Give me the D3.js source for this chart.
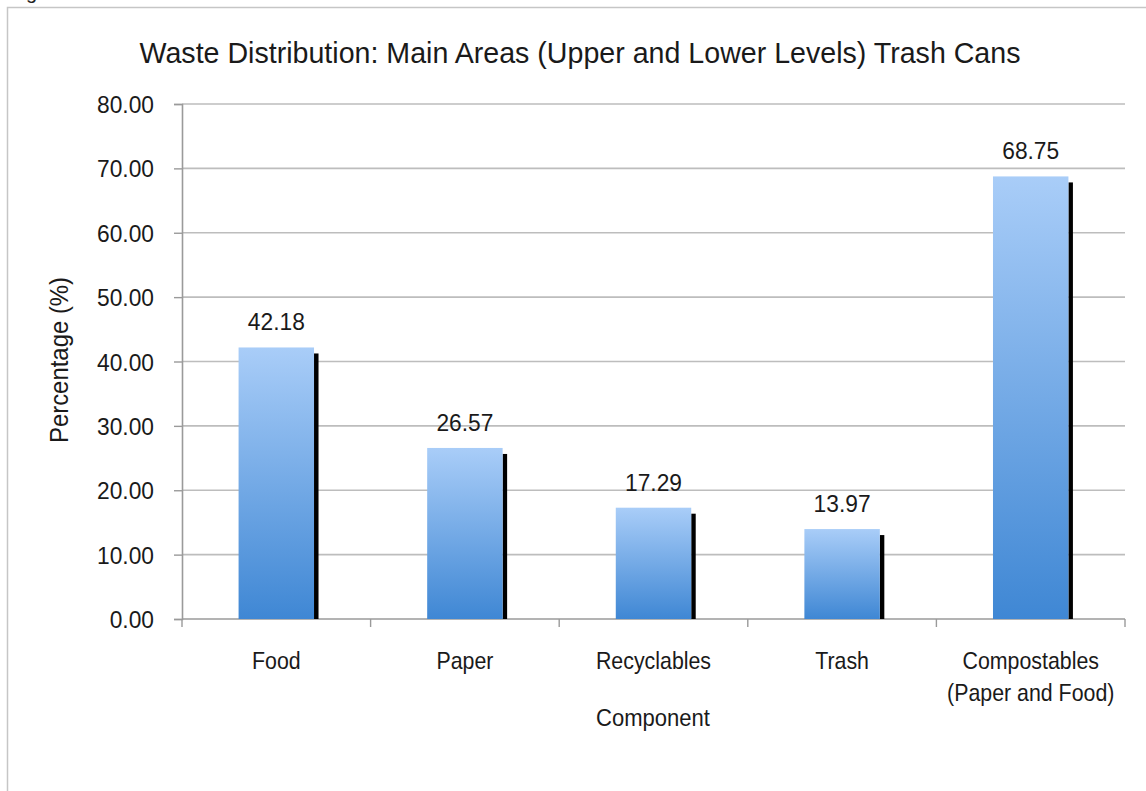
<!DOCTYPE html>
<html>
<head>
<meta charset="utf-8">
<script src="https://cdn.jsdelivr.net/npm/d3@7"></script>
<style>
  html, body { margin: 0; padding: 0; background: #fff; }
  svg { display: block; font-family: "Liberation Sans", Arial, Helvetica, sans-serif; }
</style>
</head>
<body>
<svg id="chart" width="1146" height="791"></svg>
<script>
// Waste composition of the main-area trash cans
const categories = ["Food", "Paper", "Recyclables", "Trash", "Compostables\n(Paper and Food)"];
const percentages = [42.18, 26.57, 17.29, 13.97, 68.75];
const yTicks = [0, 10, 20, 30, 40, 50, 60, 70, 80];

const titleText = "Waste Distribution: Main Areas (Upper and Lower Levels) Trash Cans";
const yTitle = "Percentage (%)";
const xTitle = "Component";

const svg = d3.select("#chart");
const W = 1146, H = 791;
const plot = { left: 182, right: 1125, top: 104, bottom: 619 };

const x = d3.scaleBand().domain(categories).range([plot.left, plot.right]).padding(0);
const y = d3.scaleLinear().domain([0, 80]).range([plot.bottom, plot.top]);
const barW = x.bandwidth() * 0.4;
const fmt = d3.format(".2f");

// frame of the surrounding figure
svg.append("path")
  .attr("d", `M7.5,${H} L7.5,7.5 L${W},7.5`)
  .attr("fill", "none").attr("stroke", "#c6c6c6").attr("stroke-width", 1.5);
svg.append("text").attr("x", 26).attr("y", -1)
  .attr("font-size", 20).attr("fill", "#222").text("g");

// gradient fill for the columns
const defs = svg.append("defs");
const grad = defs.append("linearGradient").attr("id", "barGrad")
  .attr("x1", 0).attr("y1", 0).attr("x2", 0).attr("y2", 1);
grad.append("stop").attr("offset", "0%").attr("stop-color", "#a9cdf8");
grad.append("stop").attr("offset", "100%").attr("stop-color", "#3f87d4");

// text helper with slight horizontal condensing
function label(g, px, py, str, size, anchor, sx = 0.92) {
  return g.append("text")
    .attr("transform", `translate(${px},${py}) scale(${sx},1)`)
    .attr("text-anchor", anchor)
    .attr("font-size", size)
    .attr("fill", "#1a1a1a")
    .text(str);
}

// horizontal gridlines
svg.append("g").selectAll("line").data(yTicks.filter(d => d > 0)).join("line")
  .attr("x1", plot.left).attr("x2", plot.right)
  .attr("y1", d => y(d)).attr("y2", d => y(d))
  .attr("stroke", "#bdbdbd").attr("stroke-width", 1.6);

// y axis
const yAxis = svg.append("g").attr("transform", `translate(${plot.left},0)`)
  .call(d3.axisLeft(y).tickValues(yTicks).tickSize(8).tickFormat(""));
yAxis.select(".domain").attr("stroke", "#9a9a9a").attr("stroke-width", 1.6);
yAxis.selectAll(".tick line").attr("stroke", "#9a9a9a").attr("stroke-width", 1.4);
const yLab = svg.append("g");
yTicks.forEach(t => label(yLab, 154, y(t) + 9, fmt(t), 24.5, "end", 0.93));

// x axis with tick marks at category boundaries
svg.append("line")
  .attr("x1", plot.left).attr("x2", plot.right)
  .attr("y1", plot.bottom).attr("y2", plot.bottom)
  .attr("stroke", "#9a9a9a").attr("stroke-width", 1.6);
const bounds = categories.map(c => x(c)).concat([plot.right]);
svg.append("g").selectAll("line").data(bounds).join("line")
  .attr("x1", d => d).attr("x2", d => d)
  .attr("y1", plot.bottom).attr("y2", plot.bottom + 8)
  .attr("stroke", "#9a9a9a").attr("stroke-width", 1.4);

// columns with a dark offset shadow on the right
const bars = svg.append("g");
categories.forEach((c, i) => {
  const cx = x(c) + x.bandwidth() / 2;
  const top = y(percentages[i]);
  bars.append("rect")
    .attr("x", cx + barW / 2).attr("y", top + 6)
    .attr("width", 4.5).attr("height", y(0) - top - 6)
    .attr("fill", "#000");
  bars.append("rect")
    .attr("x", cx - barW / 2).attr("y", top)
    .attr("width", barW).attr("height", y(0) - top)
    .attr("fill", "url(#barGrad)");
  label(bars, cx, top - 17, fmt(percentages[i]), 24.5, "middle", 0.93);
});

// category labels
const catLab = svg.append("g");
categories.forEach(c => {
  const cx = x(c) + x.bandwidth() / 2;
  c.split("\n").forEach((line, k) => label(catLab, cx, 669 + k * 32, line, 24, "middle", 0.89));
});

// titles
label(svg, 580, 63, titleText, 28.6, "middle", 1);
label(svg, 653, 726, xTitle, 24.5, "middle", 0.9);
svg.append("text")
  .attr("transform", `translate(68,360) rotate(-90) scale(0.92,1)`)
  .attr("text-anchor", "middle").attr("font-size", 26).attr("fill", "#1a1a1a")
  .text(yTitle);
</script>
</body>
</html>
